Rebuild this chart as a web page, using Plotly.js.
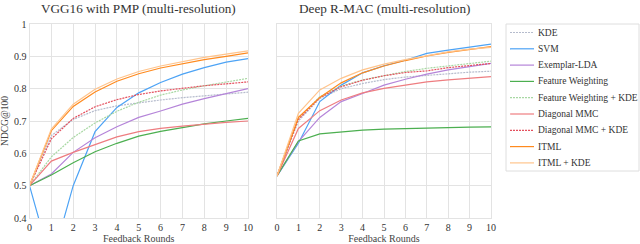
<!DOCTYPE html>
<html><head><meta charset="utf-8">
<script src="https://cdn.plot.ly/plotly-3.0.1.min.js"></script>
<style>html,body{margin:0;padding:0;background:#fff}#chart{width:640px;height:244px}</style>
</head><body><div id="chart"></div>
<script>
const rounds = [0,1,2,3,4,5,6,7,8,9,10];
const seriesNames = ["KDE","SVM","Exemplar-LDA","Feature Weighting","Feature Weighting + KDE","Diagonal MMC","Diagonal MMC + KDE","ITML","ITML + KDE"];
// VGG16 with PMP (multi-resolution)
const vggKDE      = [0.5,0.655,0.705,0.732,0.747,0.757,0.765,0.772,0.778,0.783,0.789];
const vggSVM      = [0.5,0.26,0.5,0.667,0.742,0.787,0.819,0.845,0.865,0.882,0.893];
const vggLDA      = [0.5,0.536,0.603,0.648,0.682,0.711,0.731,0.752,0.769,0.785,0.800];
const vggFW       = [0.5,0.533,0.571,0.605,0.631,0.653,0.668,0.680,0.691,0.700,0.708];
const vggFWKDE    = [0.5,0.589,0.649,0.694,0.730,0.758,0.780,0.796,0.809,0.820,0.832];
const vggMMC      = [0.5,0.576,0.603,0.628,0.651,0.667,0.677,0.684,0.691,0.696,0.700];
const vggMMCKDE   = [0.5,0.645,0.708,0.744,0.766,0.782,0.793,0.802,0.809,0.815,0.821];
const vggITML     = [0.5,0.670,0.745,0.790,0.823,0.846,0.864,0.878,0.890,0.900,0.911];
const vggITMLKDE  = [0.5,0.675,0.752,0.798,0.830,0.853,0.870,0.884,0.897,0.907,0.917];
// Deep R-MAC (multi-resolution)
const rmacKDE     = [0.53,0.700,0.770,0.800,0.816,0.828,0.836,0.841,0.847,0.851,0.854];
const rmacSVM     = [0.53,0.631,0.760,0.811,0.849,0.871,0.888,0.909,0.919,0.929,0.938];
const rmacLDA     = [0.53,0.636,0.711,0.760,0.785,0.811,0.829,0.845,0.858,0.868,0.878];
const rmacFW      = [0.53,0.638,0.660,0.667,0.672,0.675,0.677,0.678,0.680,0.681,0.682];
const rmacFWKDE   = [0.53,0.708,0.775,0.808,0.827,0.841,0.853,0.863,0.870,0.877,0.885];
const rmacMMC     = [0.53,0.677,0.732,0.765,0.787,0.801,0.811,0.821,0.827,0.832,0.837];
const rmacMMCKDE  = [0.53,0.705,0.772,0.806,0.826,0.840,0.850,0.855,0.865,0.871,0.878];
const rmacITML    = [0.53,0.711,0.773,0.818,0.849,0.870,0.887,0.901,0.912,0.921,0.930];
const rmacITMLKDE = [0.53,0.724,0.796,0.832,0.858,0.876,0.890,0.903,0.914,0.922,0.928];

const colors = ["#b6bccd","#4da3f5","#b585d9","#4caf50","#a8d8a3","#ee7d80","#e4505e","#ff8a1e","#ffc48c"];
const dashes = ["2px,1px","solid","solid","solid","2px,1px","solid","2px,1px","solid","solid"];
const vgg = [vggKDE,vggSVM,vggLDA,vggFW,vggFWKDE,vggMMC,vggMMCKDE,vggITML,vggITMLKDE];
const rmac = [rmacKDE,rmacSVM,rmacLDA,rmacFW,rmacFWKDE,rmacMMC,rmacMMCKDE,rmacITML,rmacITMLKDE];

const W=640,H=244;
const FAM = "Liberation Serif";
const fnt = {family:FAM, size:10, color:"#333"};
const grid = "#e3e3e3";

const traces = [];
seriesNames.forEach((n,i)=>{
  traces.push({x:rounds,y:vgg[i],name:n,type:"scatter",mode:"lines",xaxis:"x",yaxis:"y",
    line:{color:colors[i],width:1.2,dash:dashes[i]},showlegend:false});
});
seriesNames.forEach((n,i)=>{
  traces.push({x:rounds,y:rmac[i],name:n,type:"scatter",mode:"lines",xaxis:"x2",yaxis:"y2",
    line:{color:colors[i],width:1.2,dash:dashes[i]},showlegend:false});
});

function xa(l,r){return {domain:[l/W,r/W],range:[0,10],tickvals:rounds,ticktext:rounds.map(String),
  showgrid:true,gridcolor:grid,zeroline:false,showline:true,linecolor:grid,mirror:true,ticks:"",tickfont:fnt,
  title:{text:"Feedback Rounds",font:{family:FAM,size:10,color:"#444"},standoff:2},fixedrange:true};}
function ya(showLabels){return {domain:[1-218/H,1-24/H],range:[0.4,1],tickvals:[0.4,0.5,0.6,0.7,0.8,0.9,1],
  ticktext:["0.4","0.5","0.6","0.7","0.8","0.9","1"],showticklabels:showLabels,
  showgrid:true,gridcolor:grid,zeroline:false,showline:true,linecolor:grid,mirror:true,ticks:"",tickfont:fnt};}

// custom legend (Plotly's legend rows are taller than the reference's)
const legL=506, legT=24, legR=639, legB=171, rowH=16.3, firstRow=32.5;
const shapes = [{type:"rect",xref:"paper",yref:"paper",x0:legL/W,x1:legR/W,y0:1-legB/H,y1:1-legT/H,
  line:{color:"#dedede",width:1},fillcolor:"rgba(0,0,0,0)"}];
const annotations = [
  {text:"VGG16 with PMP (multi-resolution)",x:138/W,y:1-8/H,xref:"paper",yref:"paper",showarrow:false,
   xanchor:"center",yanchor:"middle",font:{family:FAM,size:13.2,color:"#333"}},
  {text:"Deep R-MAC (multi-resolution)",x:384/W,y:1-8/H,xref:"paper",yref:"paper",showarrow:false,
   xanchor:"center",yanchor:"middle",font:{family:FAM,size:13.2,color:"#333"}}
];
seriesNames.forEach((n,i)=>{
  const yy = 1-(firstRow+i*rowH)/H;
  shapes.push({type:"line",xref:"paper",yref:"paper",x0:510/W,x1:534/W,y0:yy,y1:yy,
    line:{color:colors[i],width:1.2,dash:dashes[i]}});
  annotations.push({text:n,x:536/W,y:yy,xref:"paper",yref:"paper",showarrow:false,xanchor:"left",yanchor:"middle",
    font:{family:FAM,size:9.5,color:"#333"}});
});

const layout = {
  width:W,height:H,margin:{l:0,r:0,t:0,b:0},paper_bgcolor:"#fff",plot_bgcolor:"#fff",
  font:fnt,showlegend:false,
  xaxis:xa(29.5,248),
  yaxis:Object.assign(ya(true),{anchor:"x",title:{text:"NDCG@100",font:{family:FAM,size:9.5,color:"#444"},standoff:4}}),
  xaxis2:Object.assign(xa(277,491),{anchor:"y2"}),
  yaxis2:Object.assign(ya(false),{anchor:"x2"}),
  shapes:shapes, annotations:annotations
};
Plotly.newPlot("chart",traces,layout,{staticPlot:true,displayModeBar:false});
</script></body></html>
